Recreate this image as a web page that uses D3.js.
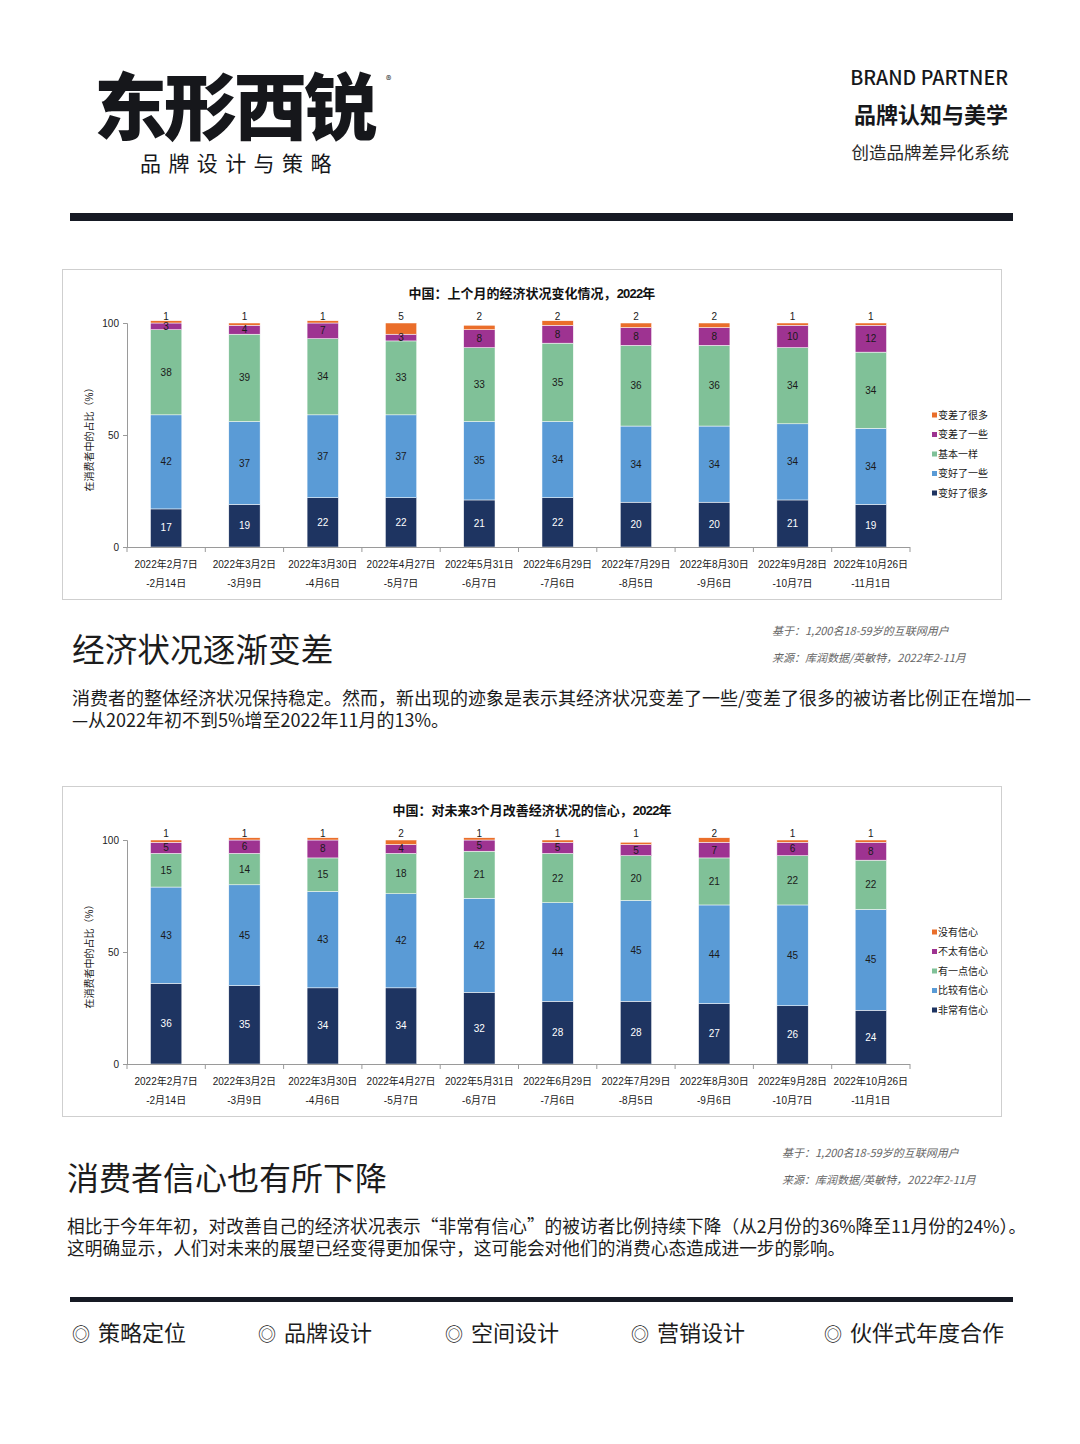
<!DOCTYPE html>
<html>
<head>
<meta charset="utf-8">
<script src="https://cdn.jsdelivr.net/npm/d3@7"></script>
<style>
  body { margin: 0; background: #fff; }
  svg text { font-family: "Noto Sans CJK SC", "Noto Sans", sans-serif; }
  .chart text { font-family: "Liberation Sans", "Noto Sans CJK SC", sans-serif; }
</style>
</head>
<body>
<svg id="page" width="1080" height="1444"></svg>
<script>
// periods (two lines for each x label)
const periodStarts = ["2022年2月7日", "2022年3月2日", "2022年3月30日", "2022年4月27日", "2022年5月31日",
  "2022年6月29日", "2022年7月29日", "2022年8月30日", "2022年9月28日", "2022年10月26日"];
const periodEnds = ["-2月14日", "-3月9日", "-4月6日", "-5月7日", "-6月7日",
  "-7月6日", "-8月5日", "-9月6日", "-10月7日", "-11月1日"];

// chart 1: last month's economic situation (bottom -> top)
const econNames = ["变好了很多", "变好了一些", "基本一样", "变差了一些", "变差了很多"];
const econMuchBetter = [17, 19, 22, 22, 21, 22, 20, 20, 21, 19];
const econBetter = [42, 37, 37, 37, 35, 34, 34, 34, 34, 34];
const econSame = [38, 39, 34, 33, 33, 35, 36, 36, 34, 34];
const econWorse = [3, 4, 7, 3, 8, 8, 8, 8, 10, 12];
const econMuchWorse = [1, 1, 1, 5, 2, 2, 2, 2, 1, 1];

// chart 2: confidence in next 3 months (bottom -> top)
const confNames = ["非常有信心", "比较有信心", "有一点信心", "不太有信心", "没有信心"];
const confVery = [36, 35, 34, 34, 32, 28, 28, 27, 26, 24];
const confFairly = [43, 45, 43, 42, 42, 44, 45, 44, 45, 45];
const confLittle = [15, 14, 15, 18, 21, 22, 20, 21, 22, 22];
const confNotVery = [5, 6, 8, 4, 5, 5, 5, 7, 6, 8];
const confNone = [1, 1, 1, 2, 1, 1, 1, 2, 1, 1];

const yTicks = [0, 50, 100];
const colors = ["#1e3461", "#5a9bd6", "#80c198", "#9e3391", "#ea6e2a"];

const svg = d3.select("#page");

// ---------- header ----------
svg.append("text").attr("x", 94).attr("y", 134)
  .style("font-size", "73px").style("font-weight", 900).attr("fill", "#16171b")
  .attr("letter-spacing", "-3")
  .text("东形西锐");
svg.append("text").attr("x", 386).attr("y", 84)
  .style("font-size", "11px").attr("fill", "#16171b").text("®");
svg.append("text").attr("x", 140).attr("y", 171)
  .style("font-size", "21px").attr("letter-spacing", "7.4").attr("fill", "#16171b")
  .text("品牌设计与策略");

svg.append("text").attr("x", 1008).attr("y", 85).attr("text-anchor", "end")
  .style("font-size", "19.6px").style("font-weight", 500).attr("fill", "#16171b")
  .text("BRAND PARTNER");
svg.append("text").attr("x", 1008).attr("y", 123).attr("text-anchor", "end")
  .style("font-size", "22px").style("font-weight", 700).attr("fill", "#16171b")
  .text("品牌认知与美学");
svg.append("text").attr("x", 1009).attr("y", 159).attr("text-anchor", "end")
  .style("font-size", "17.5px").attr("fill", "#2a2a2a")
  .text("创造品牌差异化系统");

svg.append("rect").attr("x", 70).attr("y", 213).attr("width", 943).attr("height", 8).attr("fill", "#161a24");

// ---------- chart ----------
function drawChart(cfg) {
  const g = svg.append("g").attr("class", "chart");
  const top = cfg.y0 - 224;

  g.append("rect")
    .attr("x", 62.5).attr("y", top - 53.5).attr("width", 939).attr("height", cfg.y0 + 53 - (top - 53))
    .attr("fill", "#fff").attr("stroke", "#cfcfcf");

  const x = d3.scaleBand().domain(d3.range(periodStarts.length))
    .range([127, 910]).paddingInner(0.6).paddingOuter(0.3);
  const y = d3.scaleLinear().domain([0, 100]).range([cfg.y0, top]);

  const rows = d3.range(periodStarts.length).map(i => {
    const r = { i };
    cfg.series.forEach((s, k) => r[k] = s[i]);
    return r;
  });
  const stacked = d3.stack().keys(d3.range(cfg.series.length))(rows);

  // bars
  const layers = g.selectAll("g.layer").data(stacked).enter().append("g")
    .attr("class", "layer").attr("fill", (d, k) => colors[k]);
  layers.selectAll("rect").data(d => d).enter().append("rect")
    .attr("x", d => x(d.data.i))
    .attr("y", d => y(d[1]))
    .attr("width", x.bandwidth())
    .attr("height", d => y(d[0]) - y(d[1]))
    .attr("stroke", "#fff").attr("stroke-width", 0.5);

  // segment labels
  stacked.forEach((layer, k) => {
    g.selectAll(null).data(layer).enter().append("text")
      .attr("x", d => x(d.data.i) + x.bandwidth() / 2)
      .attr("y", d => k === stacked.length - 1 ? y(100) - 7 : (y(d[0]) + y(d[1])) / 2)
      .attr("text-anchor", "middle").attr("dominant-baseline", "central")
      .style("font-size", "10px")
      .attr("fill", k === 0 ? "#fff" : "#1a1a1a")
      .text(d => d[1] - d[0]);
  });

  // y axis
  const ya = g.append("g").attr("transform", "translate(127,0)")
    .call(d3.axisLeft(y).tickValues(yTicks).tickSize(4).tickPadding(4));
  ya.select(".domain").attr("stroke", "#9a9a9a");
  ya.selectAll(".tick line").attr("stroke", "#9a9a9a");
  ya.selectAll(".tick text").style("font-size", "10px").attr("fill", "#222")
    .style("font-family", "Liberation Sans, sans-serif");

  // x axis
  const bounds = d3.range(periodStarts.length + 1).map(i => x.range()[0] + i * x.step());
  g.append("line").attr("x1", bounds[0]).attr("x2", bounds[bounds.length - 1])
    .attr("y1", cfg.y0 + 0.5).attr("y2", cfg.y0 + 0.5).attr("stroke", "#9a9a9a");
  g.selectAll(null).data(bounds).enter().append("line")
    .attr("x1", d => d).attr("x2", d => d)
    .attr("y1", cfg.y0).attr("y2", cfg.y0 + 5).attr("stroke", "#9a9a9a");
  g.selectAll(null).data(periodStarts).enter().append("text")
    .attr("x", (d, i) => x(i) + x.bandwidth() / 2).attr("y", cfg.y0 + 17)
    .attr("text-anchor", "middle").attr("dominant-baseline", "central")
    .style("font-size", "10px").attr("fill", "#1a1a1a").text(d => d);
  g.selectAll(null).data(periodEnds).enter().append("text")
    .attr("x", (d, i) => x(i) + x.bandwidth() / 2).attr("y", cfg.y0 + 36)
    .attr("text-anchor", "middle").attr("dominant-baseline", "central")
    .style("font-size", "10px").attr("fill", "#1a1a1a").text(d => d);

  // y title
  g.append("text")
    .attr("transform", `translate(89,${(cfg.y0 + top) / 2 + 2}) rotate(-90)`)
    .attr("text-anchor", "middle").attr("dominant-baseline", "central")
    .style("font-size", "10px").attr("fill", "#1a1a1a")
    .text("在消费者中的占比（%）");

  // title
  const t = g.append("text").attr("x", 532).attr("y", top - 30)
    .attr("text-anchor", "middle").attr("dominant-baseline", "central")
    .style("font-size", "13px").style("font-weight", 700).attr("fill", "#111");
  cfg.title.forEach(part => t.append("tspan").style("font-weight", part.heavy ? 900 : 700)
    .attr("letter-spacing", part.heavy ? "-0.8" : "0").text(part.text));

  // legend (top series first)
  const legendItems = cfg.names.map((n, k) => ({ n, k })).reverse();
  const lg = g.selectAll("g.leg").data(legendItems).enter().append("g")
    .attr("transform", (d, j) => `translate(932,${cfg.y0 - 132 + j * 19.5})`);
  lg.append("rect").attr("x", 0).attr("y", -2.5).attr("width", 5).attr("height", 5)
    .attr("fill", d => colors[d.k]);
  lg.append("text").attr("x", 6).attr("y", 0).attr("dominant-baseline", "central")
    .style("font-size", "10px").attr("fill", "#1a1a1a").text(d => d.n);
}

drawChart({
  y0: 547,
  series: [econMuchBetter, econBetter, econSame, econWorse, econMuchWorse],
  names: econNames,
  title: [{ text: "中国：上个月的经济状况变化情况，" }, { text: "2022", heavy: true }, { text: "年" }]
});
drawChart({
  y0: 1064,
  series: [confVery, confFairly, confLittle, confNotVery, confNone],
  names: confNames,
  title: [{ text: "中国：对未来" }, { text: "3", heavy: true }, { text: "个月改善经济状况的信心，" },
    { text: "2022", heavy: true }, { text: "年" }]
});

// ---------- text sections ----------
function section(o) {
  svg.append("text").attr("x", o.x).attr("y", o.headY)
    .style("font-size", o.headSize + "px").attr("fill", "#1c1c1c").text(o.head);
  o.notes.forEach((n, i) => svg.append("text").attr("x", o.noteX).attr("y", o.noteY + i * 27)
    .style("font-size", "11px").style("font-style", "italic").attr("fill", "#666")
    .text(n));
  o.lines.forEach((l, i) => svg.append("text").attr("x", o.x).attr("y", o.bodyY + i * 22)
    .style("font-size", o.bodySize + "px").attr("fill", "#1c1c1c").text(l));
}
const notes = ["基于：1,200名18-59岁的互联网用户", "来源：库润数据/英敏特，2022年2-11月"];
section({
  x: 72, headY: 662, head: "经济状况逐渐变差", headSize: 32.7, noteX: 772, noteY: 635, notes,
  bodyY: 705, bodySize: 18,
  lines: ["消费者的整体经济状况保持稳定。然而，新出现的迹象是表示其经济状况变差了一些/变差了很多的被访者比例正在增加—",
    "—从2022年初不到5%增至2022年11月的13%。"]
});
section({
  x: 67, headY: 1190, head: "消费者信心也有所下降", headSize: 32, noteX: 782, noteY: 1157, notes,
  bodyY: 1233, bodySize: 17.7,
  lines: ["相比于今年年初，对改善自己的经济状况表示“非常有信心”的被访者比例持续下降（从2月份的36%降至11月份的24%）。",
    "这明确显示，人们对未来的展望已经变得更加保守，这可能会对他们的消费心态造成进一步的影响。"]
});

// ---------- footer ----------
svg.append("rect").attr("x", 70).attr("y", 1297).attr("width", 943).attr("height", 5).attr("fill", "#161a24");
const footerItems = ["策略定位", "品牌设计", "空间设计", "营销设计", "伙伴式年度合作"];
const footerX = [72, 258, 445, 631, 824];
footerItems.forEach((f, i) => {
  const t = svg.append("text").attr("x", footerX[i]).attr("y", 1341)
    .style("font-size", "22px").attr("fill", "#1c1c1c");
  t.append("tspan").style("font-size", "18px").text("◎");
  t.append("tspan").attr("dx", 8).text(f);
});
</script>
</body>
</html>
